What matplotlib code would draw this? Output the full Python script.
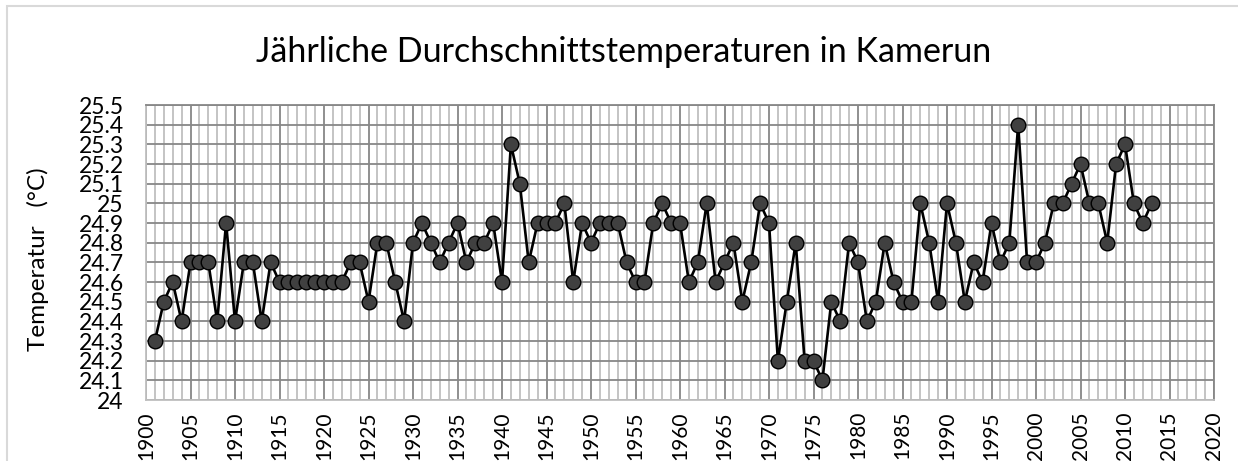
import matplotlib
matplotlib.use("Agg")
import matplotlib.pyplot as plt
from matplotlib.ticker import MultipleLocator, FixedLocator
from matplotlib.patches import Rectangle

years = list(range(1901, 2014))
temps = [
    24.3, 24.5, 24.6, 24.4, 24.7, 24.7, 24.7, 24.4, 24.9, 24.4,  # 1901-1910
    24.7, 24.7, 24.4, 24.7, 24.6, 24.6, 24.6, 24.6, 24.6, 24.6,  # 1911-1920
    24.6, 24.6, 24.7, 24.7, 24.5, 24.8, 24.8, 24.6, 24.4, 24.8,  # 1921-1930
    24.9, 24.8, 24.7, 24.8, 24.9, 24.7, 24.8, 24.8, 24.9, 24.6,  # 1931-1940
    25.3, 25.1, 24.7, 24.9, 24.9, 24.9, 25.0, 24.6, 24.9, 24.8,  # 1941-1950
    24.9, 24.9, 24.9, 24.7, 24.6, 24.6, 24.9, 25.0, 24.9, 24.9,  # 1951-1960
    24.6, 24.7, 25.0, 24.6, 24.7, 24.8, 24.5, 24.7, 25.0, 24.9,  # 1961-1970
    24.2, 24.5, 24.8, 24.2, 24.2, 24.1, 24.5, 24.4, 24.8, 24.7,  # 1971-1980
    24.4, 24.5, 24.8, 24.6, 24.5, 24.5, 25.0, 24.8, 24.5, 25.0,  # 1981-1990
    24.8, 24.5, 24.7, 24.6, 24.9, 24.7, 24.8, 25.4, 24.7, 24.7,  # 1991-2000
    24.8, 25.0, 25.0, 25.1, 25.2, 25.0, 25.0, 24.8, 25.2, 25.3,  # 2001-2010
    25.0, 24.9, 25.0,                                            # 2011-2013
]
x_ticks = list(range(1900, 2021, 5))
y_ticks = [24.0, 24.1, 24.2, 24.3, 24.4, 24.5, 24.6, 24.7, 24.8, 24.9,
           25.0, 25.1, 25.2, 25.3, 25.4, 25.5]
y_tick_labels = ["24", "24.1", "24.2", "24.3", "24.4", "24.5", "24.6", "24.7",
                 "24.8", "24.9", "25", "25.1", "25.2", "25.3", "25.4", "25.5"]
title = "Jährliche Durchschnittstemperaturen in Kamerun"
ylabel = "Temperatur   (°C)"

plt.rcParams['font.family'] = ['Lato', 'DejaVu Sans']

W, H = 1238, 461
fig = plt.figure(figsize=(W / 100, H / 100), dpi=100)

# outer chart border
fig.patches.append(Rectangle((7 / W, -0.1), 1.2, 1 - 6 / H + 0.1,
                             transform=fig.transFigure, fill=False,
                             edgecolor="#d9d9d9", linewidth=1.5))

left, right, top, bottom = 146, 1214, 105, 400
ax = fig.add_axes([left / W, 1 - bottom / H, (right - left) / W, (bottom - top) / H])

minor_c = "#bfbfbf"
major_c = "#878787"

ax.set_xlim(1900, 2020)
ax.set_ylim(24.0, 25.5)
ax.xaxis.set_major_locator(FixedLocator(x_ticks))
ax.xaxis.set_minor_locator(MultipleLocator(1))
ax.yaxis.set_major_locator(FixedLocator(y_ticks))
ax.set_xticklabels([str(v) for v in x_ticks], rotation=90, fontsize=15)
ax.set_yticklabels(y_tick_labels, fontsize=16.5)
ax.tick_params(axis='both', which='both', length=0)
ax.tick_params(axis='y', pad=16)
ax.tick_params(axis='x', pad=8)

ax.grid(which='minor', axis='x', color=minor_c, linewidth=1.3, zorder=0)
ax.grid(which='major', axis='x', color=major_c, linewidth=1.3, zorder=0.5)
ax.grid(which='major', axis='y', color=major_c, linewidth=1.3, zorder=0.5)
ax.set_axisbelow(True)

ax.spines['top'].set_color(major_c)
ax.spines['right'].set_color(major_c)
ax.spines['left'].set_color(minor_c)
ax.spines['bottom'].set_color(minor_c)
for s in ax.spines.values():
    s.set_linewidth(1.3)

ax.plot(years, temps, color="black", linewidth=1.9, marker='o',
        markersize=10.5, markerfacecolor="#404040", markeredgecolor="black",
        markeredgewidth=1.0, zorder=3, clip_on=False)

fig.text(624 / W, 1 - 62 / H, title, ha='center', va='baseline', fontsize=24.5)
fig.text(38 / W, 1 - 259 / H, ylabel, ha='center', va='center',
         rotation=90, fontsize=17.5)

fig.savefig("out.png", dpi=100)
